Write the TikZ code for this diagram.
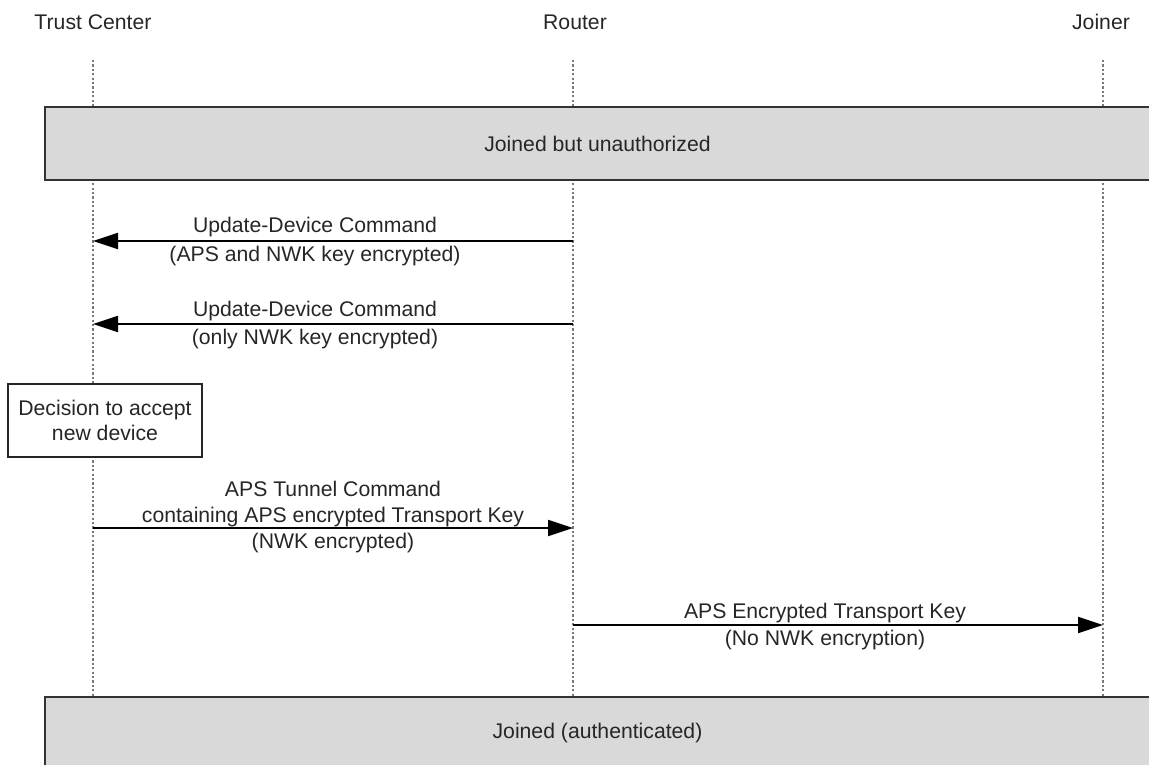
\documentclass[tikz,border=0pt]{standalone}
\usepackage{fontspec}
\setmainfont{Liberation Sans}
\usetikzlibrary{arrows.meta}
\definecolor{txtc}{HTML}{262626}
\definecolor{boxfill}{HTML}{D9D9D9}
\definecolor{lifec}{HTML}{7A7A7A}
\begin{document}
\begin{tikzpicture}[x=1pt,y=-1pt,
  font=\fontsize{21.2}{25}\selectfont,
  every node/.style={text=txtc, inner sep=0pt, outer sep=0pt},
  title/.style={anchor=base},
  lbl/.style={anchor=base},
  lifeline/.style={draw=lifec, line width=1.4pt, dash pattern=on 2.2pt off 2.2pt},
  statebox/.style={draw=black!80, line width=2pt, fill=boxfill, anchor=north west,
    minimum width=1105pt, minimum height=73pt},
  notebox/.style={draw=black!85, line width=2pt, fill=white, align=center,
    minimum width=194pt, minimum height=73pt},
  msg/.style={draw=black, line width=1.8pt, -{Triangle[length=25pt,width=16pt]}}]
\useasboundingbox (0,0) rectangle (1149,765);
\clip (0,0) rectangle (1149,765);
% participants
\node[title] (tc) at (93,30) {Trust Center};
\node[title] (rt) at (575,30) {Router};
\node[title] (jn) at (1101,30) {Joiner};
% lifelines
\coordinate (tcA) at (93,60);  \coordinate (tcB) at (93,697);
\coordinate (rtA) at (573,60); \coordinate (rtB) at (573,697);
\coordinate (jnA) at (1103,60); \coordinate (jnB) at (1103,697);
\draw[lifeline] (tcA) -- (tcB);
\draw[lifeline] (rtA) -- (rtB);
\draw[lifeline] (jnA) -- (jnB);
% state boxes
\node[statebox] (s1) at (45,107) {Joined but unauthorized};
\node[statebox] (s2) at (45,697) {Joined (authenticated)};
% message 1
\coordinate (m1r) at (573,241); \coordinate (m1t) at (93,241);
\draw[msg] (m1r) -- (m1t);
\node[lbl] (m1a) at (315,233) {Update-Device Command};
\node[lbl] (m1b) at (315,261) {(APS and NWK key encrypted)};
% message 2
\coordinate (m2r) at (573,324); \coordinate (m2t) at (93,324);
\draw[msg] (m2r) -- (m2t);
\node[lbl] (m2a) at (315,316) {Update-Device Command};
\node[lbl] (m2b) at (315,344) {(only NWK key encrypted)};
% decision
\node[notebox] (dec) at (105,420.5) {Decision to accept\\new device};
% message 3
\coordinate (m3t) at (93,528); \coordinate (m3r) at (573,528);
\draw[msg] (m3t) -- (m3r);
\node[lbl] (m3a) at (333,496) {APS Tunnel Command};
\node[lbl] (m3b) at (333,522) {containing APS encrypted Transport Key};
\node[lbl] (m3c) at (333,548) {(NWK encrypted)};
% message 4
\coordinate (m4r) at (573,625); \coordinate (m4j) at (1103,625);
\draw[msg] (m4r) -- (m4j);
\node[lbl] (m4a) at (825,618) {APS Encrypted Transport Key};
\node[lbl] (m4b) at (825,645) {(No NWK encryption)};
\end{tikzpicture}
\end{document}
